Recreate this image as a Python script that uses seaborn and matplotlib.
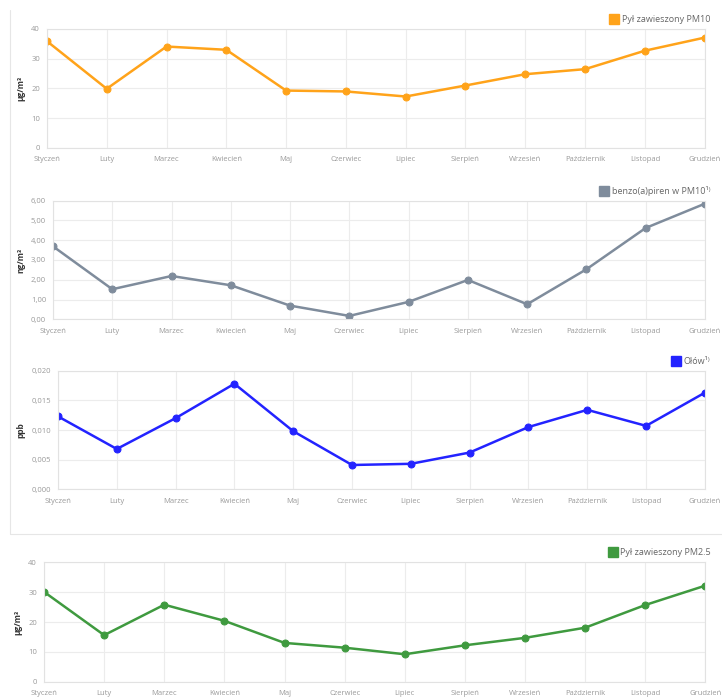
import matplotlib
matplotlib.use("Agg")
import matplotlib.pyplot as plt
import seaborn as sns
from matplotlib.lines import Line2D
from matplotlib.ticker import FuncFormatter

# monthly averages
months = ["Styczeń", "Luty", "Marzec", "Kwiecień", "Maj", "Czerwiec",
          "Lipiec", "Sierpień", "Wrzesień", "Październik", "Listopad", "Grudzień"]
pm10 = [35.9, 19.9, 34.1, 33.0, 19.3, 19.0, 17.3, 21.0, 24.8, 26.5, 32.7, 37.1]
bap = [3.69, 1.52, 2.19, 1.72, 0.69, 0.17, 0.88, 1.99, 0.76, 2.53, 4.62, 5.85]
olow = [0.0123, 0.0068, 0.0120, 0.0178, 0.0098, 0.0041,
        0.0043, 0.0062, 0.0105, 0.0134, 0.0107, 0.0163]
pm25 = [30.1, 15.6, 25.8, 20.4, 13.0, 11.4, 9.2, 12.2, 14.7, 18.1, 25.7, 32.2]

sns.set_style("white")
plt.rcParams['font.family'] = ['Open Sans', 'DejaVu Sans']

fig = plt.figure(figsize=(7.22, 7.0), dpi=100)

def comma_fmt(decimals):
    return FuncFormatter(lambda v, p: f"{v:.{decimals}f}".replace(".", ","))

panels = [
    (pm10, "Pył zawieszony PM10", "µg/m³", "#ffa31a", [0.065, 0.7886, 0.911, 0.170], [0, 10, 20, 30, 40], 0),
    (bap, "benzo(a)piren w PM10¹⁾", "ng/m³", "#7f8c9c", [0.0734, 0.5439, 0.903, 0.1694], [0, 1, 2, 3, 4, 5, 6], 2),
    (olow, "Ołów¹⁾", "ppb", "#2323ff", [0.0803, 0.3010, 0.896, 0.1694], [0, 0.005, 0.010, 0.015, 0.020], 3),
    (pm25, "Pył zawieszony PM2.5", "µg/m³", "#3f9a3f", [0.061, 0.0261, 0.916, 0.1706], [0, 10, 20, 30, 40], 0),
]

for values, name, unit, color, rect, yticks, dec in panels:
    ax = fig.add_axes(rect)
    sns.lineplot(x=months, y=values, ax=ax, sort=False, color=color, linewidth=1.8,
                 marker='o', markersize=5, markeredgecolor=color)
    ax.set_xlim(0, len(months) - 1)
    ax.set_ylim(yticks[0], yticks[-1])
    ax.set_yticks(yticks)
    ax.yaxis.set_major_formatter(comma_fmt(dec))
    ax.grid(True, color="#ececec", linewidth=0.8)
    for s in ax.spines.values():
        s.set_color("#e2e2e2")
        s.set_linewidth(0.8)
    ax.tick_params(length=0, labelsize=5.5, labelcolor="#9a9a9a")
    ax.tick_params(axis='x', pad=6)
    ax.tick_params(axis='y', pad=5)
    ax.set_xlabel("")
    ax.set_ylabel(unit, fontsize=6, fontweight="bold", color="#333333", labelpad=4)
    handle = Line2D([], [], marker='s', linestyle='none', color=color, markersize=7)
    ax.legend([handle], [name], loc='lower right', bbox_to_anchor=(1.016, 1.0),
              frameon=False, fontsize=6.5, handletextpad=0.35, borderaxespad=0.15,
              labelcolor="#666666", handlelength=1)

# light frame around the first three charts
fig.add_artist(Line2D([0.014, 0.014], [0.986, 0.237], color="#e6e6e6", linewidth=0.8))
fig.add_artist(Line2D([0.014, 1.0], [0.237, 0.237], color="#e6e6e6", linewidth=0.8))

fig.savefig("out.png", dpi=100)
